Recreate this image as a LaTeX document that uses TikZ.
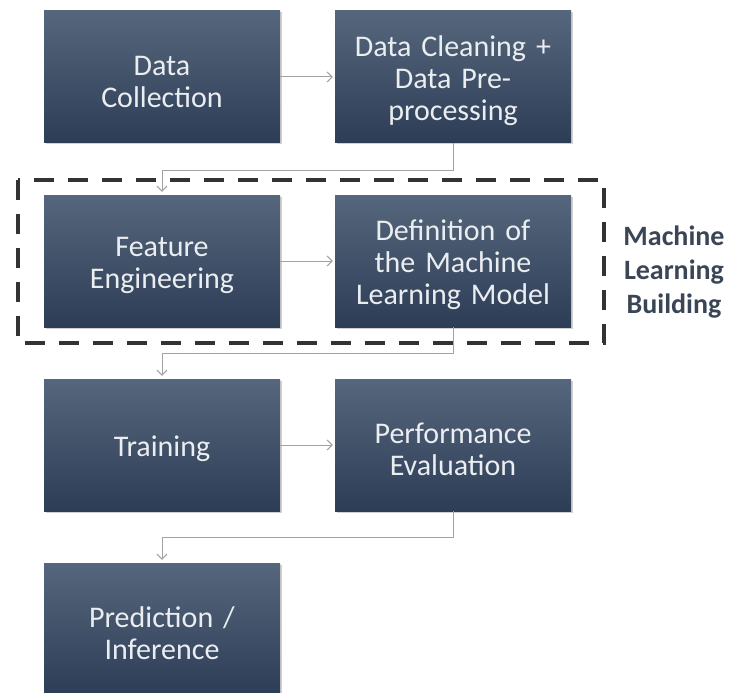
\documentclass[tikz,border=0pt]{standalone}
\usepackage{fontspec}
\setmainfont{Carlito}
\usetikzlibrary{arrows.meta,shadows}
\definecolor{boxtop}{HTML}{56667C}
\definecolor{boxbot}{HTML}{2D3D56}
\definecolor{boxtext}{HTML}{EBEEF1}
\definecolor{conncol}{HTML}{A2A2A2}
\definecolor{dashcol}{HTML}{333333}
\definecolor{labcol}{HTML}{3A4656}
\tikzset{
  stepbox/.style={rectangle, inner sep=0pt, minimum width=236pt, minimum height=132pt,
    top color=boxtop, bottom color=boxbot, draw=none,
    drop shadow={shadow xshift=1.5pt, shadow yshift=-1.5pt, fill=black, opacity=0.18},
    text=boxtext, text width=230pt, align=center,
    execute at begin node={\rule{0pt}{29pt}},
    font=\fontsize{30}{32}\selectfont},
  conn/.style={draw=conncol, line width=1pt, -{Straight Barb[length=5pt,width=10pt]}},
  mlframe/.style={draw=dashcol, line width=3.6pt, dash pattern=on 20pt off 14pt},
  mllabel/.style={text=labcol, align=center, font=\bfseries\fontsize{28}{34}\selectfont}
}
\begin{document}
\begin{tikzpicture}[x=1pt,y=-1pt]
\useasboundingbox (0,0) rectangle (732,693);
\fill[white] (0,0) rectangle (732,693);
\node[stepbox] (collect) at (162,77) {Data\\Collection};
\node[stepbox] (clean) at (453,77) {Data Cleaning +\\Data Pre-\\processing};
\node[stepbox] (feat) at (162,261) {Feature\\Engineering};
\node[stepbox] (model) at (453,261) {Definition of\\the Machine\\Learning Model};
\node[stepbox] (train) at (162,445) {Training};
\node[stepbox] (perf) at (453,445) {Performance\\Evaluation};
\node[stepbox] (pred) at (162,629) {Prediction /\\Inference};
\draw[mlframe] (18,180) rectangle (604,343);
\node[mllabel] (mllab) at (674,272) {Machine\\Learning\\Building};
\draw[conn, shorten >=2pt] (collect.east) -- (clean.west);
\draw[conn, shorten >=2pt] (feat.east) -- (model.west);
\draw[conn, shorten >=2pt] (train.east) -- (perf.west);
\draw[conn, shorten >=3pt] (clean.south) -- ++(0,27) -| (feat.north);
\draw[conn, shorten >=3pt] (model.south) -- ++(0,26) -| (train.north);
\draw[conn, shorten >=3pt] (perf.south) -- ++(0,26) -| (pred.north);
\end{tikzpicture}
\end{document}
